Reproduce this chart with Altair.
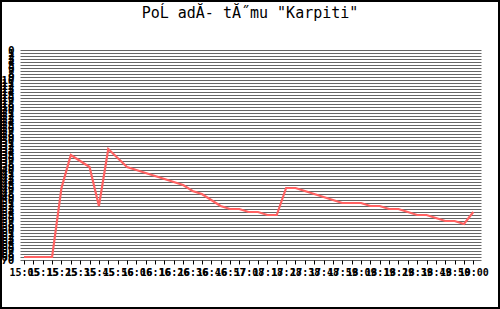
import altair as alt
import pandas as pd

# sample index (one per x tick) and team rank
sample = list(range(49))
rank = [69, 69, 69, 69, 46, 35, 37, 39, 52, 33,
        36, 39, 40, 41, 42, 43, 44, 45, 47, 48,
        50, 52, 53, 53, 54, 54, 55, 55, 46, 46,
        47, 48, 49, 50, 51, 51, 51, 52, 52, 53,
        53, 54, 55, 55, 56, 57, 57, 58, 54]

# time labels, one for every second sample
time_labels = ["15:05", "15:15", "15:25", "15:35", "15:45", "15:56",
               "16:06", "16:16", "16:26", "16:36", "16:46", "16:57",
               "17:08", "17:18", "17:28", "17:38", "17:48", "17:59",
               "18:09", "18:19", "18:29", "18:39", "18:49", "18:50",
               "19:00"]

y_ticks = list(range(0, 71))

title_text = ['PoĹ adĂ- tĂ˝mu "Karpiti"']

df = pd.DataFrame({"sample": sample, "rank": rank})

label_arr = "[" + ",".join('"%s"' % t for t in time_labels) + "]"
x_label_expr = "datum.value % 2 == 0 ? " + label_arr + "[datum.value / 2] : ''"

MONO = "DejaVu Sans Mono"

line = alt.Chart(df).mark_line(color="#ff6262", strokeWidth=2.2).encode(
    x=alt.X("sample:Q",
            scale=alt.Scale(domain=[-0.43, 48.82], nice=False, zero=False),
            axis=alt.Axis(values=sample, labelExpr=x_label_expr, title=None,
                          grid=False, domain=False, tickSize=4, tickColor="black",
                          labelFont=MONO, labelFontSize=10, labelColor="black",
                          labelFontWeight="bold",
                          labelOverlap=False, labelFlush=False, labelPadding=3,
                          labelBound=False)),
    y=alt.Y("rank:Q",
            scale=alt.Scale(domain=[0, 70], reverse=True, nice=False, zero=False),
            axis=alt.Axis(values=y_ticks, title=None, grid=True, gridColor="#666666",
                          gridWidth=1, gridOpacity=1, ticks=False, domain=False,
                          labelFont=MONO, labelFontSize=11, labelColor="black",
                          labelFontWeight="bold",
                          labelOverlap=False, labelFlush=False, labelPadding=6,
                          labelBound=False)),
)

title = alt.Chart(alt.Data(values=[{"t": t} for t in title_text])).mark_text(
    font=MONO, fontSize=15, color="black", align="center", baseline="alphabetic"
).encode(text="t:N", x=alt.value(230), y=alt.value(-32))

frame = alt.Chart(alt.Data(values=[{"f": 1}])).mark_rect(
    fillOpacity=0, stroke="black", strokeWidth=2
).encode(
    x=alt.value(-19), x2=alt.value(479), y=alt.value(-49), y2=alt.value(258)
)

chart = alt.layer(line, title, frame).properties(
    width=461, height=210,
    padding={"left": 20, "top": 50, "right": 19, "bottom": 49},
    autosize=alt.AutoSizeParams(type="none"),
    background="white",
).configure_view(stroke=None)

chart.save("out.html", embed_options={"renderer": "svg", "actions": False})
